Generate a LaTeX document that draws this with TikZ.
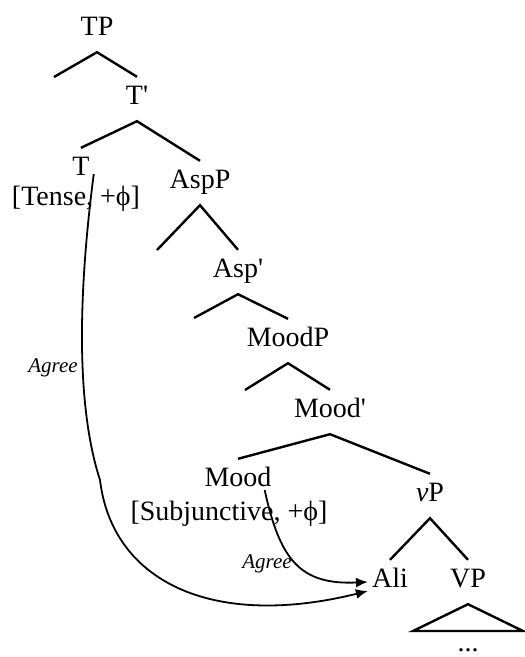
\documentclass[tikz,border=0pt]{standalone}
\usepackage{fontspec}
\setmainfont{Liberation Serif}
\usetikzlibrary{arrows.meta,positioning}

\begin{document}
\begin{tikzpicture}[
    x=1pt, y=-1pt,
    cat/.style={font=\fontsize{28}{32}\selectfont, text height=23pt, text depth=13pt, inner sep=4pt, anchor=base},
    feat/.style={font=\fontsize{28}{32}\selectfont, inner sep=0pt, anchor=base},
    branch/.style={line width=2.4pt},
    arrow/.style={-{Latex[length=12pt,width=10pt]}, line width=1.8pt},
    agree/.style={font=\fontsize{21}{24}\selectfont\itshape, inner sep=4pt}
]
    \useasboundingbox (0,0) rectangle (525,657);

    % categories
    \node[cat] (tp) at (97,35) {TP};
    \node[cat] (tbar) at (137,104) {T\textquotesingle};
    \node[cat] (t) at (81,175) {T};
    \node[feat] (tfeat) at (76,205) {[Tense, +ϕ]};
    \node[cat] (aspp) at (200,188) {AspP};
    \node[cat] (aspbar) at (238,277) {Asp\textquotesingle};
    \node[cat] (moodp) at (288,346) {MoodP};
    \node[cat] (moodbar) at (330,417) {Mood\textquotesingle};
    \node[cat] (mood) at (238,486) {Mood};
    \node[feat] (moodfeat) at (229,520) {[Subjunctive, +ϕ]};
    \node[cat] (vp) at (430,501) {\textit{v}P};
    \node[cat] (ali) at (390,587) {Ali};
    \node[cat] (vpbig) at (468,587) {VP};
    \node[feat] (dots) at (468,651) {...};

    % empty specifiers
    \coordinate (tp-l) at (54,77);
    \coordinate (aspp-l) at (157,250);
    \coordinate (aspbar-l) at (194,318);
    \coordinate (moodp-l) at (245,390);
    \coordinate (tri-l) at (413,631);
    \coordinate (tri-r) at (523,631);

    % branches
    \draw[branch] (tp-l) -- (tp.south) -- (tbar.north);
    \draw[branch] (t.north) -- (tbar.south) -- (aspp.north);
    \draw[branch] (aspp-l) -- (aspp.south) -- (aspbar.north);
    \draw[branch] (aspbar-l) -- (aspbar.south) -- (moodp.north);
    \draw[branch] (moodp-l) -- (moodp.south) -- (moodbar.north);
    \draw[branch] (mood.north) -- (moodbar.south) -- (vp.north);
    \draw[branch] (ali.north) -- (vp.south) -- (vpbig.north);
    \draw[branch] (vpbig.south) -- (tri-l) -- (tri-r) -- cycle;

    % agreement
    \draw[arrow] ([yshift=-4pt]t.east) .. controls (80,280) and (74,400) .. node[agree, left, pos=0.6] {Agree} (100,480)
        .. controls (112,580) and (210,630) .. ([yshift=-9pt]ali.west);
    \draw[arrow] ([xshift=-11pt,yshift=-9pt]mood.east) .. controls (280,560) and (300,585) .. node[agree, left, pos=0.5] {Agree} (ali.west);
\end{tikzpicture}
\end{document}
